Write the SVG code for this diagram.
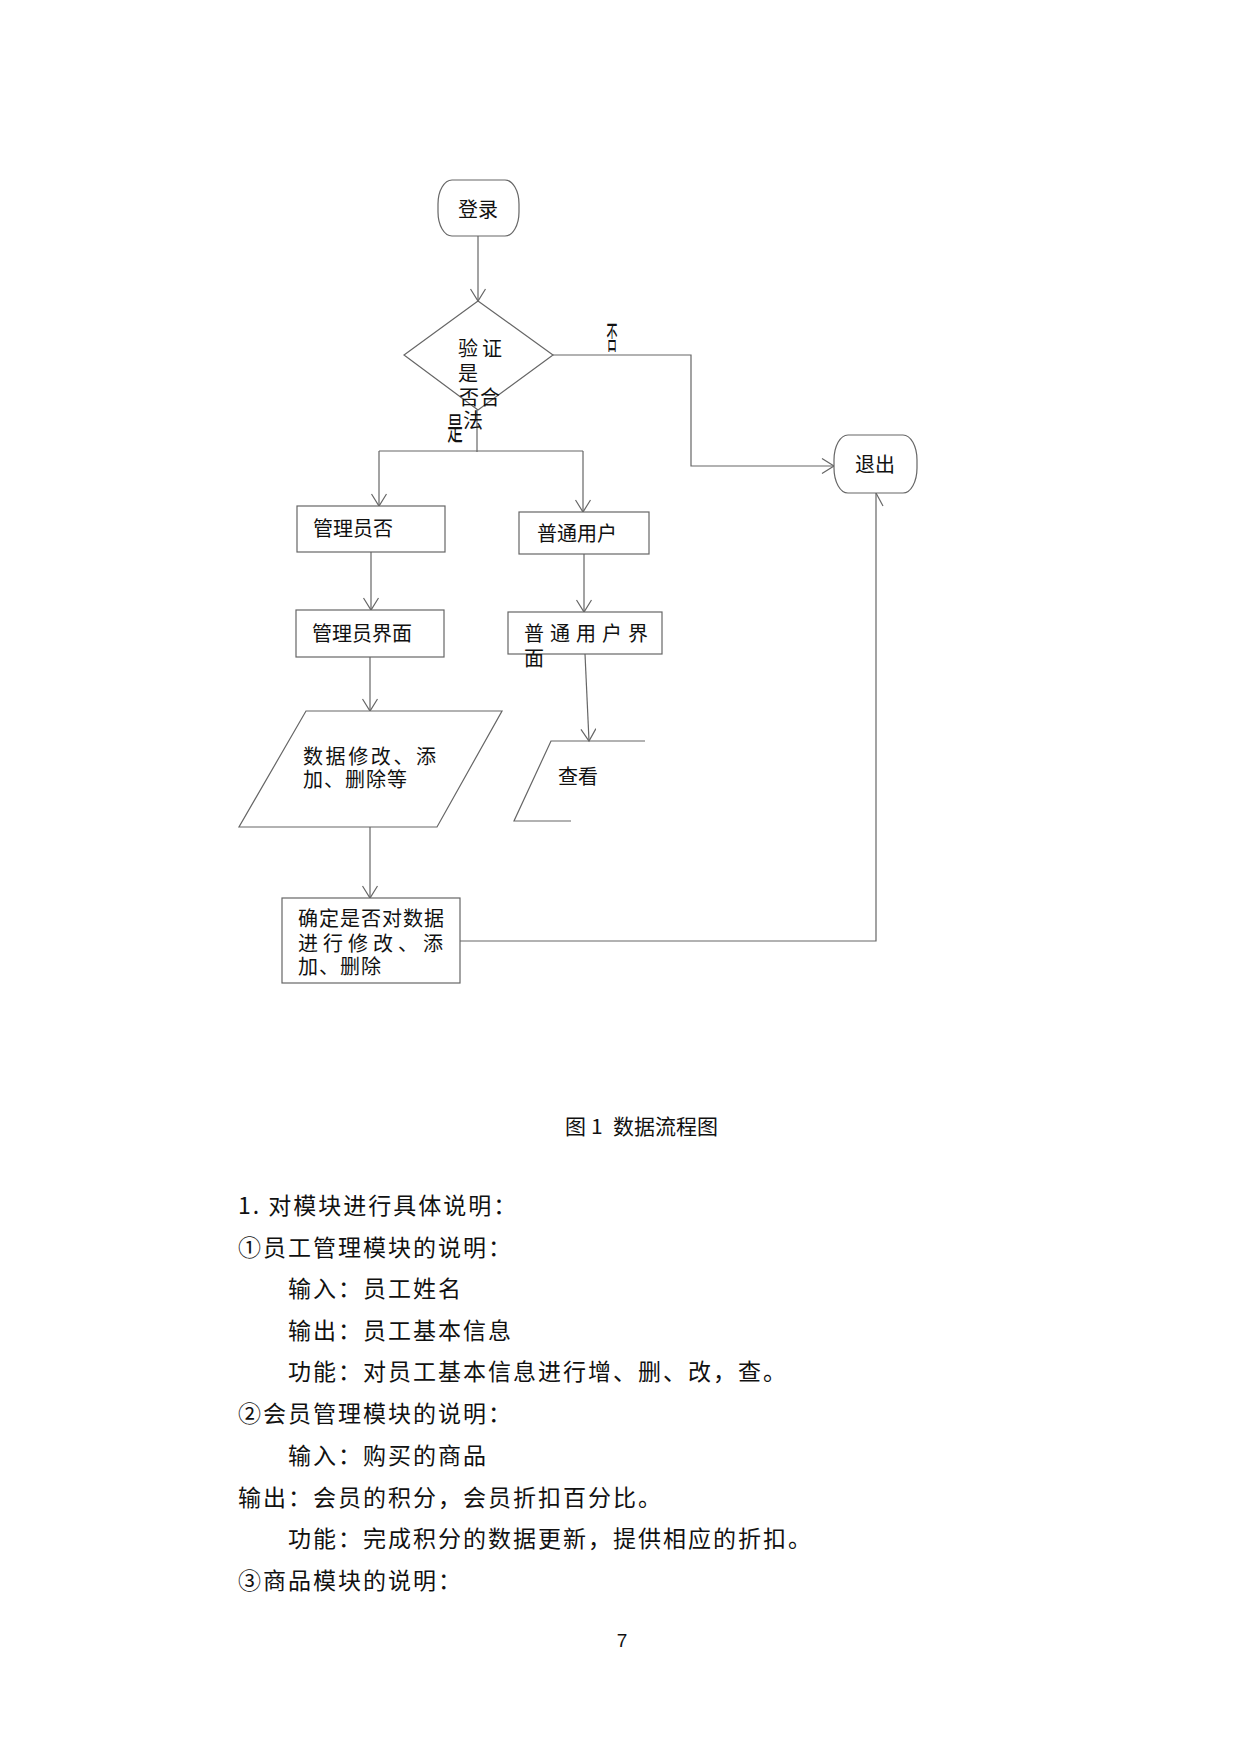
<svg xmlns="http://www.w3.org/2000/svg" width="1240" height="1754" viewBox="0 0 1240 1754">
<style>
.s{fill:none;stroke:#666;stroke-width:1.2}
.n{fill:#fff;stroke:#666;stroke-width:1.2}
.t{font-family:"Noto Sans CJK SC","Liberation Sans",sans-serif;font-size:20px;fill:#111}
.b{font-family:"Noto Sans CJK SC","Liberation Sans",sans-serif;font-size:23px;fill:#111;letter-spacing:2px}
.c{font-family:"Noto Sans CJK SC","Liberation Serif",serif;font-size:21px;fill:#111}
</style>
<defs>
<marker id="ar" markerUnits="userSpaceOnUse" markerWidth="16" markerHeight="16" refX="13" refY="8" orient="auto">
<path d="M1,0.5 L13,8 L1,15.5" fill="none" stroke="#666" stroke-width="1.2"/>
</marker>
</defs>
<rect width="1240" height="1754" fill="#fff"/>

<g id="connectors">
<path class="s" d="M478,236 L478,301" marker-end="url(#ar)"/>
<path class="s" d="M553,355 L691,355 L691,466 L834,466" marker-end="url(#ar)"/>
<path class="s" d="M477,410 L477,452"/>
<path class="s" d="M379,451 L583,451"/>
<path class="s" d="M379,451 L379,506" marker-end="url(#ar)"/>
<path class="s" d="M583,451 L583,512" marker-end="url(#ar)"/>
<path class="s" d="M371,552 L371,610" marker-end="url(#ar)"/>
<path class="s" d="M584,554 L584,612" marker-end="url(#ar)"/>
<path class="s" d="M370,657 L370,711" marker-end="url(#ar)"/>
<path class="s" d="M585,654 L589,741" marker-end="url(#ar)"/>
<path class="s" d="M370,827 L370,898" marker-end="url(#ar)"/>
<path class="s" d="M460,941 L876,941 L876,493"/>
<path class="s" d="M876,493 L883,506"/>
</g>

<g id="login">
<rect class="n" x="438" y="180" width="81" height="56" rx="14" ry="24"/>
<text class="t" x="478" y="217" text-anchor="middle">登录</text>
</g>

<g id="verify">
<polygon class="n" points="478,301 553,355 478,410 404,355"/>
<text class="t" x="458" y="356" letter-spacing="4">验证</text>
<text class="t" x="458" y="381">是</text>
<text class="t" x="459" y="405">否</text>
<text class="t" x="480" y="405">合</text>
<text class="t" x="463" y="428">法</text>
</g>

<g id="label-yes">
<text class="t" transform="translate(455,440) scale(0.78,1.6)" text-anchor="middle">是</text>
</g>
<g id="label-no">
<text class="t" transform="translate(612,349) scale(0.55,1.6)" text-anchor="middle">否</text>
</g>

<g id="exit">
<rect class="n" x="834" y="435" width="83" height="58" rx="14" ry="25"/>
<text class="t" x="875" y="472" text-anchor="middle">退出</text>
</g>

<g id="admin">
<rect class="n" x="297" y="506" width="148" height="46"/>
<text class="t" x="313" y="536">管理员否</text>
</g>

<g id="user">
<rect class="n" x="519" y="512" width="130" height="42"/>
<text class="t" x="537" y="541">普通用户</text>
</g>

<g id="admin-ui">
<rect class="n" x="296" y="610" width="148" height="47"/>
<text class="t" x="312" y="641">管理员界面</text>
</g>

<g id="user-ui">
<rect class="n" x="508" y="612" width="154" height="42"/>
<text class="t" x="524" y="641" letter-spacing="6">普通用户界</text>
<text class="t" x="524" y="666">面</text>
</g>

<g id="data-edit">
<polygon class="n" points="306,711 502,711 437,827 239,827"/>
<text class="t" x="303" y="764" letter-spacing="2.6">数据修改、添</text>
<text class="t" x="303" y="787" letter-spacing="1">加、删除等</text>
</g>

<g id="view">
<polyline class="s" points="645,741 551,741 514,821 571,821"/>
<text class="t" x="558" y="784">查看</text>
</g>

<g id="confirm">
<rect class="n" x="282" y="898" width="178" height="85"/>
<text class="t" x="298" y="926" letter-spacing="1">确定是否对数据</text>
<text class="t" x="298" y="951" letter-spacing="5">进行修改、添</text>
<text class="t" x="298" y="974" letter-spacing="1">加、删除</text>
</g>

<g id="caption">
<text class="c" x="565" y="1134">图</text>
<text class="c" x="591" y="1134" font-family="Liberation Serif, serif">1</text>
<text class="c" x="613" y="1134">数据流程图</text>
</g>

<g id="body">
<text class="b" x="238" y="1214">1. 对模块进行具体说明：</text>
<text class="b" x="238" y="1256">①员工管理模块的说明：</text>
<text class="b" x="288" y="1297">输入：员工姓名</text>
<text class="b" x="288" y="1339">输出：员工基本信息</text>
<text class="b" x="288" y="1380">功能：对员工基本信息进行增、删、改，查。</text>
<text class="b" x="238" y="1422">②会员管理模块的说明：</text>
<text class="b" x="288" y="1464">输入：购买的商品</text>
<text class="b" x="238" y="1506">输出：会员的积分，会员折扣百分比。</text>
<text class="b" x="288" y="1547">功能：完成积分的数据更新，提供相应的折扣。</text>
<text class="b" x="238" y="1589">③商品模块的说明：</text>
</g>

<text x="622" y="1647" text-anchor="middle" font-family="Liberation Sans, sans-serif" font-size="19" fill="#111">7</text>
</svg>
